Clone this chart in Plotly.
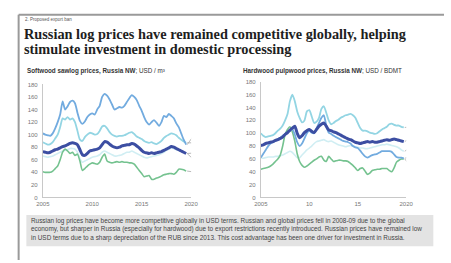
import plotly.graph_objects as go

W, H = 451, 263

# ---------------- data ----------------
t_left = [2005 + 0.25 * i for i in range(59)]
t_right = [2005 + 0.25 * i for i in range(60)]

soft_country2 = [102,100,99,98,102,110,120,132,153,140,145,152,154,150,135,122,117,121,128,132,
                 134,132,140,146,160,165,162,156,148,140,142,144,143,146,152,158,163,160,155,146,
                 138,128,120,116,120,123,119,114,120,130,128,133,130,126,118,112,102,92,84]
soft_country3 = [88,86,84,85,88,94,100,112,126,124,128,124,126,120,106,92,90,96,100,103,
                 102,100,101,106,113,114,110,104,100,98,97,98,98,99,101,103,104,101,97,95,
                 93,90,88,87,88,86,85,87,90,95,98,100,102,101,99,95,92,89,87]
soft_country4 = [73,72,71,72,74,76,77,79,81,82,84,86,87,86,84,76,68,67,70,74,
                 75,76,77,79,84,89,88,85,82,80,79,80,82,83,84,84,86,85,82,79,
                 75,72,71,70,71,70,71,72,73,75,77,79,81,80,78,76,74,72,70]
soft_index = [66,65,64,65,66,68,70,72,74,75,76,78,78,77,72,62,56,58,60,62,
              64,65,66,68,72,74,72,70,68,66,66,67,68,70,72,72,74,72,70,68,
              66,64,63,64,65,66,67,68,70,72,75,77,79,78,76,75,74,72,70]
soft_country1 = [41,40,40,40,42,46,50,60,72,77,74,70,72,67,69,58,43,46,50,53,
                 55,54,53,56,64,69,58,56,55,56,57,56,57,56,56,55,55,53,48,43,
                 38,33,34,35,29,29,31,32,34,36,37,38,38,37,40,45,45,44,42]

hard_index = [81,82,84,85,86,87,89,90,92,94,98,101,105,108,111,100,93,96,101,104,
              106,103,101,106,111,114,116,111,105,104,102,101,99,97,95,93,91,90,88,86,
              85,84,85,86,87,86,87,86,86,87,88,89,90,89,90,91,90,89,88,87]
hard_country2 = [100,96,94,95,96,97,100,104,107,112,120,130,150,160,150,134,124,117,120,134,
                 136,126,116,118,124,138,142,132,120,114,116,119,121,124,126,128,129,130,128,124,
                 116,108,104,104,103,101,100,99,100,103,106,108,110,114,115,113,112,112,110,109]
hard_country4 = [62,61,62,63,63,63,64,64,65,66,68,70,72,70,66,62,62,66,70,74,
                 77,80,84,87,88,89,90,88,87,88,86,84,82,81,80,79,80,81,80,79,
                 78,77,77,76,76,77,78,79,80,81,82,82,83,82,81,80,79,77,74,72]
hard_country1 = [62,68,74,80,84,86,88,91,93,96,99,101,104,106,98,86,80,84,92,100,
                 104,101,100,108,116,124,128,112,101,99,96,94,92,90,88,87,86,84,80,78,
                 77,73,68,64,62,64,66,67,68,70,72,72,72,72,71,67,63,62,62,61]
hard_country3 = [44,45,46,47,49,52,56,60,66,80,98,106,110,102,88,68,56,50,47,49,
                 52,55,58,60,63,64,58,56,64,60,56,57,58,58,57,57,56,53,50,46,
                 42,45,46,41,36,38,42,43,44,44,45,45,45,42,40,46,55,58,60,60]

y_ticks = [0, 20, 40, 60, 80, 100, 120, 140, 160, 180]
left_xticks = [2005, 2010, 2015, 2020]
left_xlabels = ["2005", "2010", "2015", "2020"]
right_xticks = [2005, 2010, 2015, 2020]
right_xlabels = ["2005", "10", "15", "2020"]

left_labels = ["Country 2", "Country 3", "Country 4", "Index", "Country 1"]
left_label_y = [105, 87, 71, 56, 40]
right_labels = ["Country 2", "Index", "Country 4", "Country 1", "Country 3"]
right_label_y = [110, 94, 79, 64, 47]

# ---------------- styles ----------------
C_MED = "#72abdf"
C_CYAN = "#93d5e3"
C_DARK = "#3c4ea2"
C_PALE = "#d0eef3"
C_GREEN = "#74c28f"

def px(x):
    return x / W

def py(y):
    return 1 - y / H

fig = go.Figure()

left_series = {
    "Index": (soft_index, C_PALE, 1.6),
    "Country 1": (soft_country1, C_GREEN, 1.6),
    "Country 3": (soft_country3, C_CYAN, 1.8),
    "Country 2": (soft_country2, C_MED, 1.8),
    "Country 4": (soft_country4, C_DARK, 3.0),
}
right_series = {
    "Country 4": (hard_country4, C_PALE, 1.6),
    "Country 3": (hard_country3, C_GREEN, 1.6),
    "Country 2": (hard_country2, C_CYAN, 1.8),
    "Country 1": (hard_country1, C_MED, 1.8),
    "Index": (hard_index, C_DARK, 3.0),
}

for name, (vals, col, w) in left_series.items():
    fig.add_trace(go.Scatter(x=t_left, y=vals, mode="lines", name=name,
                             line=dict(color=col, width=w, shape="spline", smoothing=0.6),
                             xaxis="x", yaxis="y", showlegend=False, hoverinfo="skip"))
for name, (vals, col, w) in right_series.items():
    fig.add_trace(go.Scatter(x=t_right, y=vals, mode="lines", name=name,
                             line=dict(color=col, width=w, shape="spline", smoothing=0.6),
                             xaxis="x2", yaxis="y2", showlegend=False, hoverinfo="skip"))

axis_common = dict(showgrid=False, zeroline=False, showline=True, linecolor="#c8c8c8",
                   linewidth=1, ticks="", tickfont=dict(family="Liberation Sans, Arial", size=6, color="#777"))

fig.update_layout(
    width=W, height=H,
    margin=dict(l=0, r=0, t=0, b=0),
    paper_bgcolor="white", plot_bgcolor="rgba(0,0,0,0)",
    xaxis=dict(domain=[px(37), px(190)], range=[2005, 2020], tickvals=left_xticks,
               ticktext=left_xlabels, anchor="y", **axis_common),
    yaxis=dict(domain=[py(199), py(83.3)], range=[0, 180], tickvals=y_ticks,
               anchor="x", ticklabelstandoff=3, **axis_common),
    xaxis2=dict(domain=[px(262), px(412)], range=[2005, 2020], tickvals=right_xticks,
                ticktext=right_xlabels, anchor="y2", **axis_common),
    yaxis2=dict(domain=[py(199), py(80.7)], range=[0, 180], tickvals=y_ticks,
                anchor="x2", ticklabelstandoff=3, **axis_common),
)

shapes = []
annotations = []

# frame
shapes.append(dict(type="line", xref="paper", yref="paper", x0=px(12), x1=px(12), y0=0, y1=py(12),
                   line=dict(color="#9a9a9a", width=2)))
shapes.append(dict(type="line", xref="paper", yref="paper", x0=px(12), x1=1, y0=py(12), y1=py(12),
                   line=dict(color="#9a9a9a", width=2)))

# header & title
annotations.append(dict(text="2. Proposed export ban", x=px(16), y=py(17), xref="paper", yref="paper",
                        xanchor="left", yanchor="middle", showarrow=False,
                        font=dict(family="Liberation Sans, Arial", size=4.5, color="#555")))
annotations.append(dict(text="<b>Russian log prices have remained competitive globally, helping</b>",
                        x=px(15), y=py(32), xref="paper", yref="paper", xanchor="left", yanchor="middle",
                        showarrow=False, font=dict(family="Liberation Serif, serif", size=14.3, color="#1e1e1e")))
annotations.append(dict(text="<b>stimulate investment in domestic processing</b>",
                        x=px(15), y=py(47), xref="paper", yref="paper", xanchor="left", yanchor="middle",
                        showarrow=False, font=dict(family="Liberation Serif, serif", size=14.3, color="#1e1e1e")))

# subtitles
annotations.append(dict(text="<b>Softwood sawlog prices, Russia NW</b>; USD / m³",
                        x=px(19), y=py(70), xref="paper", yref="paper", xanchor="left", yanchor="middle",
                        showarrow=False, font=dict(family="Liberation Sans, Arial", size=6.3, color="#333")))
annotations.append(dict(text="<b>Hardwood pulpwood prices, Russia NW</b>; USD / BDMT",
                        x=px(242), y=py(70), xref="paper", yref="paper", xanchor="left", yanchor="middle",
                        showarrow=False, font=dict(family="Liberation Sans, Arial", size=6.3, color="#333")))

# series labels with leader lines
left_end = {"Country 2": soft_country2[-1], "Country 3": soft_country3[-1], "Country 4": soft_country4[-1],
            "Index": soft_index[-1], "Country 1": soft_country1[-1]}
right_end = {"Country 2": hard_country2[-1], "Index": hard_index[-1], "Country 4": hard_country4[-1],
             "Country 1": hard_country1[-1], "Country 3": hard_country3[-1]}

for lab, ly in zip(left_labels, left_label_y):
    annotations.append(dict(text=lab, x=2020.6, y=ly, xref="x", yref="y", xanchor="left", yanchor="middle",
                            showarrow=False, font=dict(family="Liberation Sans, Arial", size=6.3, color="#555")))
    shapes.append(dict(type="line", xref="x", yref="y", x0=t_left[-1] + 0.1, y0=left_end[lab],
                       x1=2020.55, y1=ly, line=dict(color="#aaaaaa", width=0.8)))
for lab, ly in zip(right_labels, right_label_y):
    annotations.append(dict(text=lab, x=2020.6, y=ly, xref="x2", yref="y2", xanchor="left", yanchor="middle",
                            showarrow=False, font=dict(family="Liberation Sans, Arial", size=6.3, color="#555")))
    shapes.append(dict(type="line", xref="x2", yref="y2", x0=t_right[-1] + 0.1, y0=right_end[lab],
                       x1=2020.55, y1=ly, line=dict(color="#aaaaaa", width=0.8)))

# comment box
shapes.append(dict(type="rect", xref="paper", yref="paper", x0=px(20), x1=px(440), y0=py(249), y1=py(217),
                   fillcolor="#e3e3e3", line=dict(width=0), layer="below"))
note = ("Russian log prices have become more competitive globally in USD terms. Russian and global prices fell in 2008-09 due to the global<br>"
        "economy, but sharper in Russia (especially for hardwood) due to export restrictions recently introduced. Russian prices have remained low<br>"
        "in USD terms due to a sharp depreciation of the RUB since 2013. This cost advantage has been one driver for investment in Russia.")
annotations.append(dict(text=note, x=px(23), y=py(231.5), xref="paper", yref="paper", xanchor="left",
                        yanchor="middle", align="left", showarrow=False,
                        font=dict(family="Liberation Sans, Arial", size=6.4, color="#444")))

fig.update_layout(shapes=shapes, annotations=annotations)
fig.write_html("out.html", config={"displayModeBar": False, "staticPlot": True})

# remove default page margin so the figure sits at the window origin
with open("out.html", "r", encoding="utf-8") as f:
    html = f.read()
html = html.replace("<head>", "<head><style>html,body{margin:0;padding:0;overflow:hidden;}</style>", 1)
with open("out.html", "w", encoding="utf-8") as f:
    f.write(html)
